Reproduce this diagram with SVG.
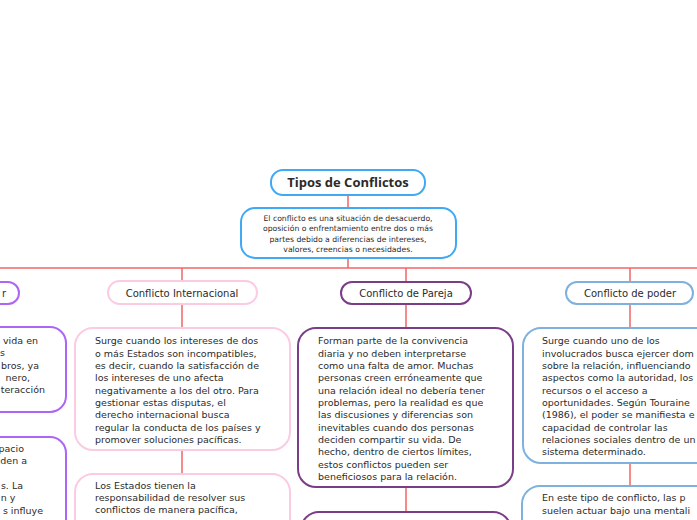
<svg xmlns="http://www.w3.org/2000/svg" width="697" height="520" viewBox="0 0 697 520">
<style>
text{font-family:"DejaVu Sans","Liberation Sans",sans-serif;fill:#2b2b2b}
.body{font-size:9.5px}
.hdr{font-size:10px}
.ln{stroke:#f26464;stroke-width:1.5;fill:none}
.box{fill:#fff;stroke-width:2}
.blue{stroke:#3fa9f5}
.pink{stroke:#fbcbe3}
.plum{stroke:#7b3d87}
.steel{stroke:#7fb1de}
.vio{stroke:#ac66f6}
</style>
<rect width="697" height="520" fill="#fff"/>
<g id="connectors">
<path class="ln" d="M348 195V208M348 258V268"/>
<path class="ln" stroke-width="2" d="M0 268H697"/>
<path class="ln" d="M182 268V281M182 304V328M182 450V474"/>
<path class="ln" d="M406 268V282M406 304V328M406 487V512"/>
<path class="ln" d="M630 268V282M630 304V328M630 463V486"/>
</g>
<g id="title">
<rect class="box blue" x="271" y="170" width="154" height="25" rx="12"/>
<text x="348" y="187" text-anchor="middle" font-size="13" font-weight="bold" style="font-family:'Open Sans','Liberation Sans',sans-serif">Tipos de Conflictos</text>
</g>
<g id="description">
<rect class="box blue" x="241" y="208" width="215" height="50" rx="14"/>
<text font-size="7.7" text-anchor="middle"><tspan x="348" y="220.8">El conflicto es una situación de desacuerdo,</tspan><tspan x="348" y="231.3">oposición o enfrentamiento entre dos o más</tspan><tspan x="348" y="241.8">partes debido a diferencias de intereses,</tspan><tspan x="348" y="252.3">valores, creencias o necesidades.</tspan></text>
</g>
<g id="left-header">
<rect class="box vio" x="-120" y="282" width="139" height="22" rx="11"/>
<text class="hdr" x="6" y="296.8" text-anchor="end">r</text>
</g>
<g id="left-child-1">
<rect class="box vio" x="-160" y="327" width="226" height="85" rx="16"/>
<text class="body" text-anchor="end"><tspan x="38" y="344">vida en</tspan><tspan x="5" y="356.3">s</tspan><tspan x="39" y="368.7">bros, ya</tspan><tspan x="30" y="381">nero,</tspan><tspan x="45" y="393.3">teracción</tspan></text>
</g>
<g id="left-child-2">
<rect class="box vio" x="-160" y="437" width="226" height="100" rx="16"/>
<text class="body" text-anchor="end"><tspan x="24" y="452">pacio</tspan><tspan x="27" y="464.3">den a</tspan><tspan x="23" y="489">s. La</tspan><tspan x="15.5" y="501.3">n y</tspan><tspan x="43" y="513.7">s influye</tspan></text>
</g>
<g id="internacional">
<rect class="box pink" x="108" y="281" width="149" height="23" rx="11.5"/>
<text class="hdr" x="182" y="296.8" text-anchor="middle">Conflicto Internacional</text>
</g>
<g id="internacional-1">
<rect class="box pink" x="75" y="328" width="215" height="122" rx="18"/>
<text class="body"><tspan x="95" y="344.2">Surge cuando los intereses de dos</tspan><tspan x="95" y="356.5">o más Estados son incompatibles,</tspan><tspan x="95" y="368.8">es decir, cuando la satisfacción de</tspan><tspan x="95" y="381.2">los intereses de uno afecta</tspan><tspan x="95" y="393.5">negativamente a los del otro. Para</tspan><tspan x="95" y="405.8">gestionar estas disputas, el</tspan><tspan x="95" y="418.2">derecho internacional busca</tspan><tspan x="95" y="430.5">regular la conducta de los países y</tspan><tspan x="95" y="442.8">promover soluciones pacíficas.</tspan></text>
</g>
<g id="internacional-2">
<rect class="box pink" x="75" y="474" width="215" height="80" rx="18"/>
<text class="body"><tspan x="95" y="488.5">Los Estados tienen la</tspan><tspan x="95" y="500.8">responsabilidad de resolver sus</tspan><tspan x="95" y="513.2">conflictos de manera pacífica,</tspan></text>
</g>
<g id="pareja">
<rect class="box plum" x="341" y="282" width="130" height="22" rx="11"/>
<text class="hdr" x="406" y="296.8" text-anchor="middle">Conflicto de Pareja</text>
</g>
<g id="pareja-1">
<rect class="box plum" x="298" y="328" width="215" height="159" rx="18"/>
<text class="body"><tspan x="318" y="344.2">Forman parte de la convivencia</tspan><tspan x="318" y="356.5">diaria y no deben interpretarse</tspan><tspan x="318" y="368.8">como una falta de amor. Muchas</tspan><tspan x="318" y="381.2">personas creen erróneamente que</tspan><tspan x="318" y="393.5">una relación ideal no debería tener</tspan><tspan x="318" y="405.8">problemas, pero la realidad es que</tspan><tspan x="318" y="418.2">las discusiones y diferencias son</tspan><tspan x="318" y="430.5">inevitables cuando dos personas</tspan><tspan x="318" y="442.8">deciden compartir su vida. De</tspan><tspan x="318" y="455.2">hecho, dentro de ciertos límites,</tspan><tspan x="318" y="467.5">estos conflictos pueden ser</tspan><tspan x="318" y="479.8">beneficiosos para la relación.</tspan></text>
</g>
<g id="pareja-2">
<rect class="box plum" x="301" y="512" width="210" height="60" rx="18"/>
</g>
<g id="poder">
<rect class="box steel" x="566" y="282" width="127" height="22" rx="11"/>
<text class="hdr" x="630" y="296.8" text-anchor="middle">Conflicto de poder</text>
</g>
<g id="poder-1">
<rect class="box steel" x="523" y="328" width="215" height="135" rx="18"/>
<text class="body"><tspan x="542" y="344.2">Surge cuando uno de los</tspan><tspan x="542" y="356.5">involucrados busca ejercer dom</tspan><tspan x="542" y="368.8">sobre la relación, influenciando</tspan><tspan x="542" y="381.2">aspectos como la autoridad, los</tspan><tspan x="542" y="393.5">recursos o el acceso a</tspan><tspan x="542" y="405.8">oportunidades. Según Touraine</tspan><tspan x="542" y="418.2">(1986), el poder se manifiesta e</tspan><tspan x="542" y="430.5">capacidad de controlar las</tspan><tspan x="542" y="442.8">relaciones sociales dentro de un</tspan><tspan x="542" y="455.2">sistema determinado.</tspan></text>
</g>
<g id="poder-2">
<rect class="box steel" x="522" y="486" width="215" height="80" rx="18"/>
<text class="body"><tspan x="542" y="500.5">En este tipo de conflicto, las p</tspan><tspan x="542" y="513.5">suelen actuar bajo una mentali</tspan></text>
</g>
</svg>
